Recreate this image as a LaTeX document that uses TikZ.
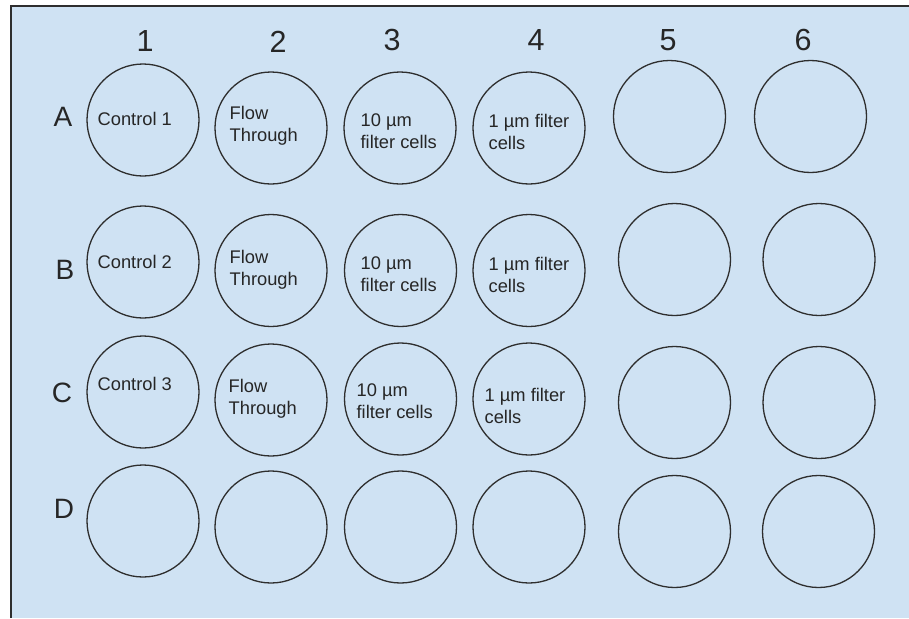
\documentclass[tikz,border=0pt]{standalone}
\usepackage{fontspec}
\setmainfont{Liberation Sans}
\definecolor{plateblue}{HTML}{CFE2F3}
\definecolor{rimgray}{HTML}{2E2E2E}

\begin{document}
\begin{tikzpicture}[x=1pt, y=-1pt, line width=1.3pt,
  well/.style={draw=rimgray, circle, minimum size=112pt, inner sep=0pt},
  welltext/.style={anchor=west, inner sep=0pt, align=left, text=black!85, font=\fontsize{18.3}{22}\selectfont},
  collab/.style={inner sep=0pt, text=black!85, font=\fontsize{30.5}{30}\selectfont},
  rowlab/.style={inner sep=0pt, text=black!85, font=\fontsize{28}{28}\selectfont}]
\useasboundingbox (0,0) rectangle (909,618);
\fill[plateblue] (11,6) rectangle (909,618);
\draw[rimgray, line width=1.5pt] (11,618) -- (11,6) -- (909,6);
% numeri delle colonne
\node[collab] (c1) at (145,41) {1};
\node[collab] (c2) at (278,42) {2};
\node[collab] (c3) at (392,40) {3};
\node[collab] (c4) at (536,40) {4};
\node[collab] (c5) at (668,40) {5};
\node[collab] (c6) at (803,40) {6};
% lettere delle righe
\node[rowlab] (ra) at (63,117) {A};
\node[rowlab] (rb) at (65,270) {B};
\node[rowlab] (rc) at (62,393) {C};
\node[rowlab] (rd) at (64,509) {D};
% pozzetti
\foreach \name/\x/\y in {a1/143/120, a2/271/128, a3/400/128, a4/529/128, a5/669.5/116.5, a6/810.5/116.5,
    b1/143/262, b2/271/270.5, b3/400.5/270.5, b4/529/270.5, b5/674.5/259.5, b6/819/259.5,
    c1/143/392, c2/271/400, c3/400.5/399, c4/529/399, c5/674.5/402.5, c6/819/402.5,
    d1/143/521, d2/271/527, d3/400.5/527, d4/529/527, d5/674.5/531.5, d6/818.5/531.5}
  \node[well] (w\name) at (\x,\y) {};
% contenuto dei pozzetti
\node[welltext] (ta1) at (97,119) {Control 1};
\node[welltext] (ta2) at (229,125.5) {Flow\\Through};
\node[welltext] (ta3) at (360,131.5) {10 µm\\filter cells};
\node[welltext] (ta4) at (488,131.5) {1 µm filter\\cells};
\node[welltext] (tb1) at (97,262) {Control 2};
\node[welltext] (tb2) at (229,269.5) {Flow\\Through};
\node[welltext] (tb3) at (360,274.5) {10 µm\\filter cells};
\node[welltext] (tb4) at (488,274.5) {1 µm filter\\cells};
\node[welltext] (tc1) at (97,384) {Control 3};
\node[welltext] (tc2) at (228,398.5) {Flow\\Through};
\node[welltext] (tc3) at (356,401) {10 µm\\filter cells};
\node[welltext] (tc4) at (484,405.5) {1 µm filter\\cells};
\end{tikzpicture}
\end{document}
